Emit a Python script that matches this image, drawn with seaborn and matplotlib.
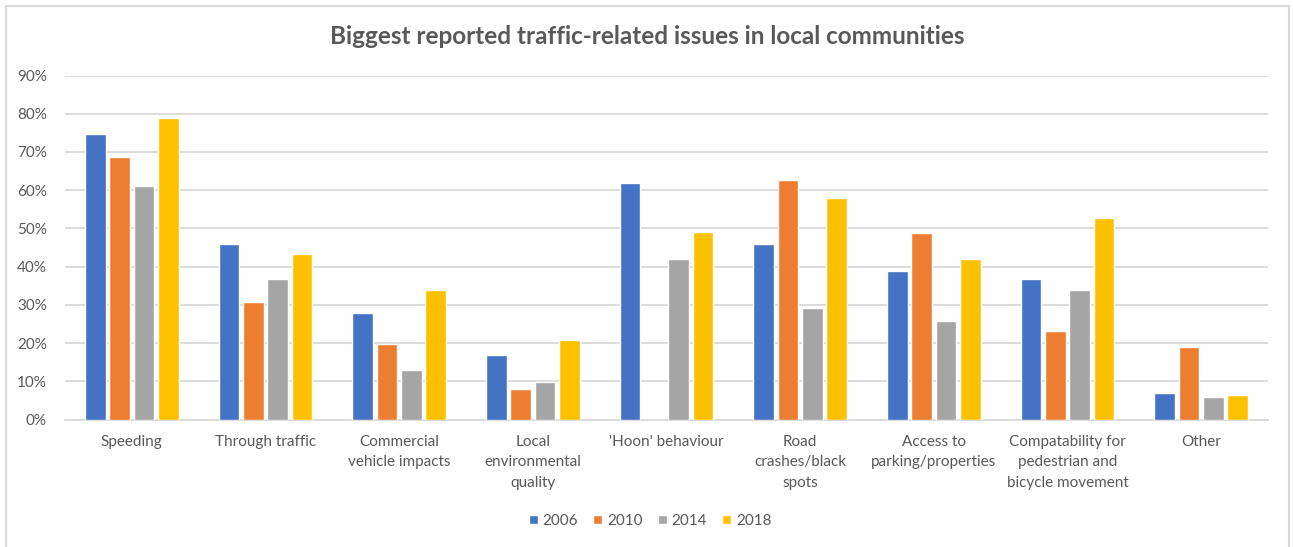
import matplotlib
matplotlib.use("Agg")
import matplotlib.pyplot as plt
from matplotlib.patches import Rectangle
from matplotlib.ticker import MultipleLocator, PercentFormatter
import pandas as pd
import seaborn as sns

categories = [
    "Speeding",
    "Through traffic",
    "Commercial\nvehicle impacts",
    "Local\nenvironmental\nquality",
    "'Hoon' behaviour",
    "Road\ncrashes/black\nspots",
    "Access to\nparking/properties",
    "Compatability for\npedestrian and\nbicycle movement",
    "Other",
]
years = ["2006", "2010", "2014", "2018"]
values_2006 = [74.7, 45.9, 27.8, 16.8, 61.9, 45.9, 38.8, 36.7, 6.9]
values_2010 = [68.7, 30.7, 19.7, 7.9, 0.0, 62.7, 48.8, 23.1, 18.9]
values_2014 = [61.1, 36.7, 12.9, 9.8, 42.0, 29.1, 25.7, 33.9, 5.8]
values_2018 = [78.9, 43.3, 33.9, 20.8, 49.0, 57.9, 42.0, 52.7, 6.4]
y_ticks = list(range(0, 91, 10))

colors = ["#4472C4", "#ED7D31", "#A5A5A5", "#FFC000"]
text_color = "#595959"
grid_color = "#D9D9D9"

rows = []
for year, vals in zip(years, [values_2006, values_2010, values_2014, values_2018]):
    for cat, v in zip(categories, vals):
        rows.append({"issue": cat, "year": year, "share": v})
df = pd.DataFrame(rows)

sns.set_theme(style="white")
plt.rcParams["font.family"] = ["Lato", "DejaVu Sans"]

fig = plt.figure(figsize=(12.93, 5.47), dpi=100)
ax = fig.add_axes([65 / 1293, 1 - 419.5 / 547, (1268 - 65) / 1293, (419.5 - 75.5) / 547])

sns.barplot(
    data=df, x="issue", y="share", hue="year", order=categories, hue_order=years,
    palette=colors, width=0.73, gap=0.15, saturation=1, errorbar=None, ax=ax,
    zorder=3,
)

ax.set_ylim(0, 90)
ax.set_xlim(-0.5, len(categories) - 0.5)
ax.yaxis.set_major_locator(MultipleLocator(10))
ax.yaxis.set_major_formatter(PercentFormatter(decimals=0))
ax.set_yticks(y_ticks)
ax.grid(axis="y", color=grid_color, linewidth=1.3, zorder=0)
ax.set_axisbelow(True)
for side in ["top", "right", "left"]:
    ax.spines[side].set_visible(False)
ax.spines["bottom"].set_color(grid_color)
ax.spines["bottom"].set_linewidth(1.3)
ax.tick_params(axis="both", length=0, colors=text_color, labelsize=11)
ax.tick_params(axis="y", pad=13)
ax.tick_params(axis="x", pad=11)
for lbl in ax.get_xticklabels():
    lbl.set_linespacing(1.6)
ax.set_xlabel("")
ax.set_ylabel("")

ax.legend(
    loc="center", bbox_to_anchor=(650 / 1293, 1 - 521 / 547), bbox_transform=fig.transFigure,
    ncol=4, frameon=False, fontsize=11, labelcolor=text_color,
    handlelength=0.6, handleheight=0.6, handletextpad=0.3, columnspacing=1.0,
)

fig.text(647 / 1293, 1 - 37 / 547, "Biggest reported traffic-related issues in local communities",
         ha="center", va="center", fontsize=17.5, fontweight="bold", color=text_color)

fig.patches.append(Rectangle((5.5 / 1293, -0.05), (1288.5 - 5.5) / 1293, 1.05 - 5.5 / 547,
                             transform=fig.transFigure, fill=False, edgecolor=grid_color,
                             linewidth=1.5))

fig.savefig("out.png", dpi=100)
